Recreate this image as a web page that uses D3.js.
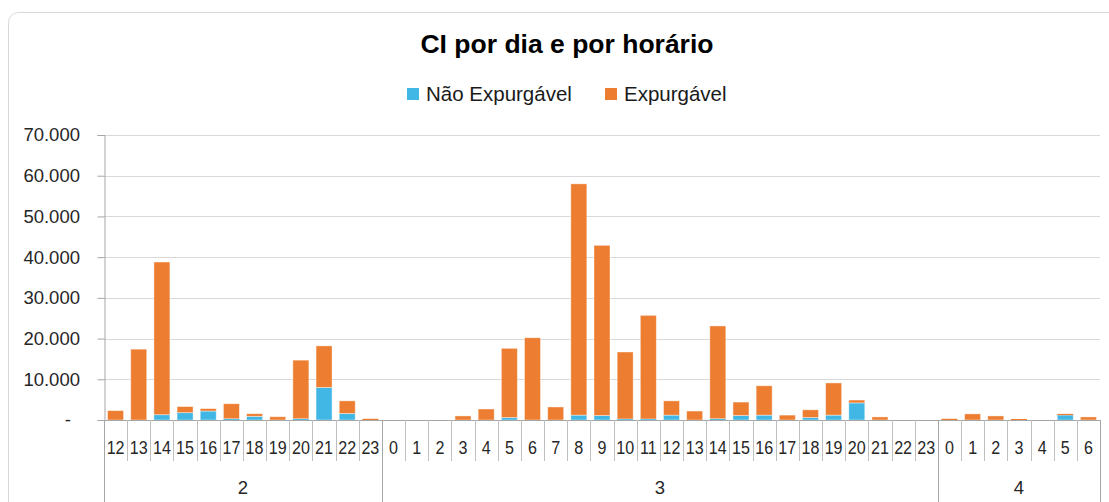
<!DOCTYPE html>
<html>
<head>
<meta charset="utf-8">
<script src="https://cdn.jsdelivr.net/npm/d3@7"></script>
<style>
  html, body { margin: 0; padding: 0; background: #ffffff; }
  svg { display: block; }
  text { font-family: "Liberation Sans", Arial, sans-serif; }
</style>
</head>
<body>
<svg id="chart" width="1109" height="502"></svg>
<script>
// ---- DATA ----
const days = ["2", "3", "4"];
const hoursDay2 = [12, 13, 14, 15, 16, 17, 18, 19, 20, 21, 22, 23];
const hoursDay3 = [0, 1, 2, 3, 4, 5, 6, 7, 8, 9, 10, 11, 12, 13, 14, 15, 16, 17, 18, 19, 20, 21, 22, 23];
const hoursDay4 = [0, 1, 2, 3, 4, 5, 6];
const seriesNames = ["Não Expurgável", "Expurgável"];
// Não Expurgável values per hour
const naoExpDay2 = [0, 0, 1300, 1800, 2200, 300, 900, 0, 300, 8000, 1600, 0];
const naoExpDay3 = [0, 0, 0, 0, 0, 600, 0, 0, 1200, 1100, 250, 250, 1200, 0, 300, 1100, 1200, 0, 600, 1200, 4200, 0, 0, 0];
const naoExpDay4 = [0, 0, 0, 0, 0, 1200, 0];
// Expurgável values per hour
const expDay2 = [2300, 17400, 37500, 1500, 600, 3700, 650, 800, 14400, 10200, 3100, 300];
const expDay3 = [0, 0, 0, 1000, 2700, 17000, 20200, 3200, 56800, 41800, 16450, 25450, 3500, 2200, 22800, 3300, 7200, 1200, 1900, 7900, 700, 750, 0, 0];
const expDay4 = [300, 1500, 1000, 250, 0, 300, 750];
const yTicks = [0, 10000, 20000, 30000, 40000, 50000, 60000, 70000];
const title = "CI por dia e por horário";

// ---- BUILD TABLE ----
const hoursByDay = [hoursDay2, hoursDay3, hoursDay4];
const naoByDay = [naoExpDay2, naoExpDay3, naoExpDay4];
const expByDay = [expDay2, expDay3, expDay4];
const rows = [];
days.forEach((d, di) => {
  hoursByDay[di].forEach((h, hi) => {
    rows.push({ key: d + "-" + h, day: d, hour: h, nao: naoByDay[di][hi], exp: expByDay[di][hi] });
  });
});

// ---- LAYOUT ----
const svg = d3.select("#chart");
const colors = { nao: "#41b7e5", exp: "#ed7d31" };
const textColor = "#262626";
const margin = { left: 104, right: 9, top: 135, plotBottom: 420 };
const width = 1109, height = 502;

// card
svg.append("rect")
  .attr("x", 8.5).attr("y", 12.5)
  .attr("width", 1120).attr("height", 520)
  .attr("rx", 10).attr("ry", 10)
  .attr("fill", "#fff").attr("stroke", "#d9d9d9").attr("stroke-width", 1);

const x = d3.scaleBand()
  .domain(rows.map(r => r.key))
  .range([margin.left, width - margin.right])
  .paddingInner(0.31).paddingOuter(0.155);

const xCell = d3.scaleBand()
  .domain(rows.map(r => r.key))
  .range([margin.left, width - margin.right])
  .padding(0);

const y = d3.scaleLinear()
  .domain([0, 70000])
  .range([margin.plotBottom, margin.top]);

const locale = d3.formatLocale({ decimal: ",", thousands: ".", grouping: [3], currency: ["R$", ""] });
const fmt = locale.format(",.0f");

// gridlines
svg.append("g")
  .selectAll("line")
  .data(yTicks.filter(t => t > 0))
  .join("line")
  .attr("x1", margin.left).attr("x2", width - margin.right)
  .attr("y1", d => Math.round(y(d)) + 0.5).attr("y2", d => Math.round(y(d)) + 0.5)
  .attr("stroke", "#d9d9d9").attr("stroke-width", 1);

// y axis
const yAxis = d3.axisLeft(y)
  .tickValues(yTicks)
  .tickSize(7)
  .tickPadding(17.5)
  .tickFormat(d => d === 0 ? "-" : fmt(d));
const gy = svg.append("g")
  .attr("transform", `translate(${margin.left + 0.5},0)`)
  .call(yAxis);
gy.select(".domain").attr("stroke", "#a6a6a6");
gy.selectAll(".tick line").attr("stroke", "#a6a6a6");
gy.selectAll(".tick text")
  .attr("fill", textColor)
  .style("font-size", "18.5px");
gy.selectAll(".tick")
  .filter(d => d === 0)
  .select("text")
  .attr("dx", -9);

// stacked bars
const stack = d3.stack().keys(["nao", "exp"]);
const stacked = stack(rows);
svg.append("g")
  .selectAll("g")
  .data(stacked)
  .join("g")
  .attr("fill", d => colors[d.key])
  .selectAll("rect")
  .data(d => d)
  .join("rect")
  .attr("x", d => x(d.data.key))
  .attr("width", x.bandwidth())
  .attr("y", d => y(d[1]))
  .attr("height", d => Math.max(0, y(d[0]) - y(d[1])))
  .attr("stroke", "#ffffff")
  .attr("stroke-opacity", 0.5)
  .attr("stroke-width", d => (y(d[0]) - y(d[1])) > 1.5 ? 0.8 : 0);

// x axis baseline
svg.append("line")
  .attr("x1", margin.left).attr("x2", width - margin.right)
  .attr("y1", margin.plotBottom + 0.5).attr("y2", margin.plotBottom + 0.5)
  .attr("stroke", "#a6a6a6");

// hour axis
const xAxis = d3.axisBottom(xCell)
  .tickSize(0)
  .tickPadding(0)
  .tickFormat(k => rows.find(r => r.key === k).hour);
const gx = svg.append("g")
  .attr("transform", `translate(0,${margin.plotBottom})`)
  .call(xAxis);
gx.select(".domain").remove();
gx.selectAll(".tick text")
  .attr("fill", textColor)
  .attr("y", 34)
  .attr("dy", null)
  .attr("transform", "scale(0.87,1)")
  .style("font-size", "18.5px");

// category dividers
const groupStarts = new Set();
let idx = 0;
hoursByDay.forEach(h => { groupStarts.add(idx); idx += h.length; });
groupStarts.add(rows.length);
const boundaries = d3.range(rows.length + 1);
svg.append("g")
  .selectAll("line")
  .data(boundaries)
  .join("line")
  .attr("x1", i => Math.round(margin.left + i * xCell.step()) + 0.5)
  .attr("x2", i => Math.round(margin.left + i * xCell.step()) + 0.5)
  .attr("y1", margin.plotBottom)
  .attr("y2", i => groupStarts.has(i) ? 502 : 461)
  .attr("stroke", i => groupStarts.has(i) ? "#a6a6a6" : "#bfbfbf");

// day labels
let start = 0;
days.forEach((d, di) => {
  const n = hoursByDay[di].length;
  const cx = margin.left + (start + n / 2) * xCell.step();
  svg.append("text")
    .attr("x", cx).attr("y", 494)
    .attr("text-anchor", "middle")
    .attr("fill", textColor)
    .style("font-size", "18.5px")
    .text(d);
  start += n;
});

// title
svg.append("text")
  .attr("x", 567).attr("y", 53)
  .attr("text-anchor", "middle")
  .attr("fill", "#000")
  .style("font-size", "26.5px")
  .style("font-weight", "bold")
  .text(title);

// legend
const legend = svg.append("g");
const legendItems = [
  { name: seriesNames[0], color: colors.nao, x: 407 },
  { name: seriesNames[1], color: colors.exp, x: 605 }
];
legendItems.forEach(it => {
  legend.append("rect")
    .attr("x", it.x).attr("y", 88)
    .attr("width", 12).attr("height", 12)
    .attr("fill", it.color);
  legend.append("text")
    .attr("x", it.x + 19).attr("y", 101)
    .attr("fill", "#1a1a1a")
    .style("font-size", "20.5px")
    .text(it.name);
});
</script>
</body>
</html>
